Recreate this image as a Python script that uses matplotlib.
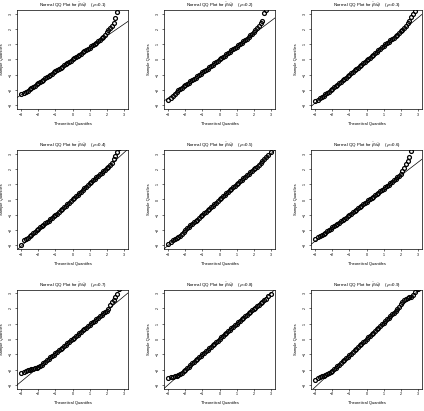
import numpy as np
import matplotlib
matplotlib.use("Agg")
import matplotlib.pyplot as plt

plt.rcParams['font.family'] = ['Liberation Sans', 'DejaVu Sans']
plt.rcParams['mathtext.fontset'] = 'dejavusans'

# theoretical quantiles (shared by all panels)
theo = [-3.0, -2.83, -2.7, -2.6, -2.5, -2.4, -2.3, -2.2, -2.1, -2.0,
        -1.9, -1.8, -1.7, -1.6, -1.5, -1.4, -1.3, -1.2, -1.1, -1.0,
        -0.9, -0.8, -0.7, -0.6, -0.5, -0.4, -0.3, -0.2, -0.1, 0.0,
        0.1, 0.2, 0.3, 0.4, 0.5, 0.6, 0.7, 0.8, 0.9, 1.0,
        1.1, 1.2, 1.3, 1.4, 1.5, 1.6, 1.7, 1.8, 1.9, 2.0,
        2.1, 2.2, 2.3, 2.4, 2.5, 2.6, 2.7, 2.83, 3.0]

rhos = [0.1, 0.2, 0.3, 0.4, 0.5, 0.6, 0.7, 0.8, 0.9]

# sample quantiles
s01 = [-2.26, -2.20, -2.12, -2.04, -1.96, -1.88, -1.80, -1.71, -1.63, -1.55,
       -1.47, -1.39, -1.31, -1.23, -1.16, -1.08, -1.00, -0.93, -0.85, -0.77,
       -0.69, -0.62, -0.54, -0.46, -0.38, -0.31, -0.23, -0.15, -0.08, 0.00,
       0.08, 0.15, 0.23, 0.31, 0.39, 0.46, 0.54, 0.62, 0.70, 0.78,
       0.86, 0.94, 1.02, 1.10, 1.19, 1.28, 1.38, 1.50, 1.63, 1.77,
       1.90, 2.03, 2.18, 2.40, 2.70, 3.10, 3.50, 3.90, 4.50]
s02 = [-2.62, -2.52, -2.38, -2.26, -2.12, -2.01, -1.92, -1.84, -1.76, -1.68,
       -1.60, -1.51, -1.43, -1.35, -1.26, -1.18, -1.09, -1.01, -0.92, -0.84,
       -0.76, -0.67, -0.59, -0.50, -0.42, -0.34, -0.25, -0.17, -0.08, 0.00,
       0.08, 0.17, 0.25, 0.34, 0.42, 0.50, 0.59, 0.67, 0.76, 0.84,
       0.93, 1.01, 1.10, 1.19, 1.28, 1.37, 1.47, 1.58, 1.70, 1.82,
       1.93, 2.05, 2.20, 2.36, 2.55, 3.05, 3.25, 3.55, 3.95]
s03 = [-2.72, -2.64, -2.55, -2.46, -2.38, -2.29, -2.20, -2.11, -2.02, -1.93,
       -1.83, -1.74, -1.64, -1.55, -1.46, -1.36, -1.27, -1.18, -1.08, -0.99,
       -0.90, -0.80, -0.71, -0.62, -0.53, -0.43, -0.34, -0.25, -0.15, -0.06,
       0.03, 0.13, 0.22, 0.31, 0.41, 0.50, 0.60, 0.70, 0.80, 0.90,
       0.99, 1.08, 1.16, 1.25, 1.34, 1.43, 1.53, 1.63, 1.73, 1.84,
       1.95, 2.07, 2.20, 2.38, 2.55, 2.75, 3.00, 3.20, 3.45]
s04 = [-2.95, -2.68, -2.58, -2.50, -2.40, -2.30, -2.20, -2.10, -2.00, -1.92,
       -1.83, -1.74, -1.65, -1.57, -1.48, -1.39, -1.30, -1.20, -1.11, -1.02,
       -0.92, -0.82, -0.72, -0.62, -0.51, -0.41, -0.31, -0.20, -0.10, 0.00,
       0.10, 0.21, 0.31, 0.42, 0.52, 0.63, 0.73, 0.84, 0.95, 1.05,
       1.16, 1.27, 1.37, 1.47, 1.57, 1.67, 1.76, 1.85, 1.95, 2.04,
       2.15, 2.28, 2.42, 2.62, 2.85, 3.12, 3.40, 3.70, 4.10]
s05 = [-2.88, -2.78, -2.68, -2.60, -2.52, -2.44, -2.36, -2.24, -2.10, -1.98,
       -1.88, -1.79, -1.69, -1.60, -1.50, -1.40, -1.31, -1.21, -1.11, -1.01,
       -0.91, -0.80, -0.70, -0.60, -0.50, -0.40, -0.30, -0.20, -0.10, 0.00,
       0.10, 0.20, 0.30, 0.40, 0.50, 0.60, 0.70, 0.80, 0.90, 1.00,
       1.10, 1.20, 1.29, 1.38, 1.48, 1.58, 1.68, 1.78, 1.88, 1.97,
       2.06, 2.15, 2.26, 2.40, 2.50, 2.62, 2.80, 2.92, 3.08]
s06 = [-2.58, -2.47, -2.38, -2.30, -2.23, -2.16, -2.08, -2.00, -1.92, -1.83,
       -1.75, -1.67, -1.59, -1.51, -1.43, -1.35, -1.27, -1.18, -1.10, -1.01,
       -0.92, -0.84, -0.75, -0.67, -0.58, -0.49, -0.41, -0.32, -0.24, -0.15,
       -0.06, 0.02, 0.11, 0.19, 0.28, 0.37, 0.45, 0.54, 0.62, 0.71,
       0.80, 0.89, 0.98, 1.07, 1.16, 1.26, 1.36, 1.46, 1.56, 1.68,
       1.85, 2.05, 2.30, 2.55, 2.80, 3.18, 3.50, 3.80, 4.30]
s07 = [-2.23, -2.15, -2.09, -2.05, -2.02, -1.99, -1.96, -1.93, -1.89, -1.84,
       -1.76, -1.67, -1.58, -1.49, -1.40, -1.30, -1.21, -1.12, -1.02, -0.93,
       -0.84, -0.74, -0.65, -0.56, -0.46, -0.37, -0.28, -0.19, -0.09, 0.00,
       0.09, 0.19, 0.28, 0.37, 0.47, 0.56, 0.65, 0.75, 0.84, 0.93,
       1.02, 1.12, 1.21, 1.30, 1.40, 1.49, 1.58, 1.67, 1.76, 1.86,
       1.98, 2.20, 2.40, 2.58, 2.74, 2.95, 3.30, 3.60, 4.00]
s08 = [-2.55, -2.50, -2.47, -2.43, -2.39, -2.35, -2.29, -2.20, -2.10, -2.00,
       -1.90, -1.80, -1.70, -1.60, -1.50, -1.40, -1.30, -1.20, -1.10, -1.00,
       -0.90, -0.80, -0.70, -0.60, -0.50, -0.40, -0.30, -0.20, -0.10, 0.00,
       0.10, 0.20, 0.30, 0.40, 0.50, 0.60, 0.70, 0.80, 0.90, 1.00,
       1.10, 1.20, 1.30, 1.40, 1.50, 1.60, 1.70, 1.79, 1.88, 1.97,
       2.06, 2.15, 2.24, 2.33, 2.43, 2.53, 2.65, 2.80, 2.96]
s09 = [-2.66, -2.55, -2.49, -2.45, -2.41, -2.36, -2.30, -2.23, -2.15, -2.07,
       -1.98, -1.88, -1.78, -1.68, -1.58, -1.47, -1.37, -1.26, -1.16, -1.05,
       -0.95, -0.84, -0.74, -0.63, -0.53, -0.42, -0.32, -0.21, -0.11, 0.00,
       0.11, 0.21, 0.32, 0.42, 0.53, 0.63, 0.74, 0.85, 0.96, 1.07,
       1.18, 1.29, 1.40, 1.51, 1.62, 1.73, 1.85, 1.98, 2.12, 2.27,
       2.40, 2.53, 2.63, 2.70, 2.73, 2.77, 2.86, 3.08, 3.30]
samples = [s01, s02, s03, s04, s05, s06, s07, s08, s09]

# reference line (slope, intercept) for each panel
line_slope = [0.77, 0.84, 0.93, 1.02, 1.00, 0.86, 0.93, 1.00, 1.05]
line_icept = [0.00, 0.00, -0.06, 0.00, 0.00, -0.15, 0.00, 0.00, 0.00]

W, H = 424, 411
fig = plt.figure(figsize=(W / 100, H / 100), dpi=100)

col_left = [17, 164, 311]
row_top = [10, 150, 289.5]
box_w, box_h = 111, 99
lim = (-3.24, 3.24)
ticks = [-3, -2, -1, 0, 1, 2, 3]

for i in range(9):
    r, c = divmod(i, 3)
    ax = fig.add_axes([col_left[c] / W, 1 - (row_top[r] + box_h) / H,
                       box_w / W, box_h / H])
    ax.plot(theo, samples[i], 'o', mfc='none', mec='black', ms=2.8, mew=0.9)
    xs = np.array(lim)
    ax.plot(xs, line_slope[i] * xs + line_icept[i], color='black', lw=0.5)
    ax.set_xlim(lim)
    ax.set_ylim(lim)
    ax.set_xticks(ticks)
    ax.set_yticks(ticks)
    ax.tick_params(length=1.5, width=0.4, pad=1.2, labelsize=2.6)
    for lab in ax.get_yticklabels():
        lab.set_rotation(90)
        lab.set_va('center')
    for sp in ax.spines.values():
        sp.set_linewidth(0.5)
    ax.set_title(r'Normal QQ Plot for $\hat{\beta}/\hat{s}_{\beta}$    ($\rho$=%.1f)' % rhos[i],
                 fontsize=3.2, pad=2.5)
    ax.set_xlabel('Theoretical Quantiles', fontsize=2.9, labelpad=3.5)
    ax.set_ylabel('Sample Quantiles', fontsize=2.9, labelpad=3.5)

fig.savefig('out.png', dpi=100)
